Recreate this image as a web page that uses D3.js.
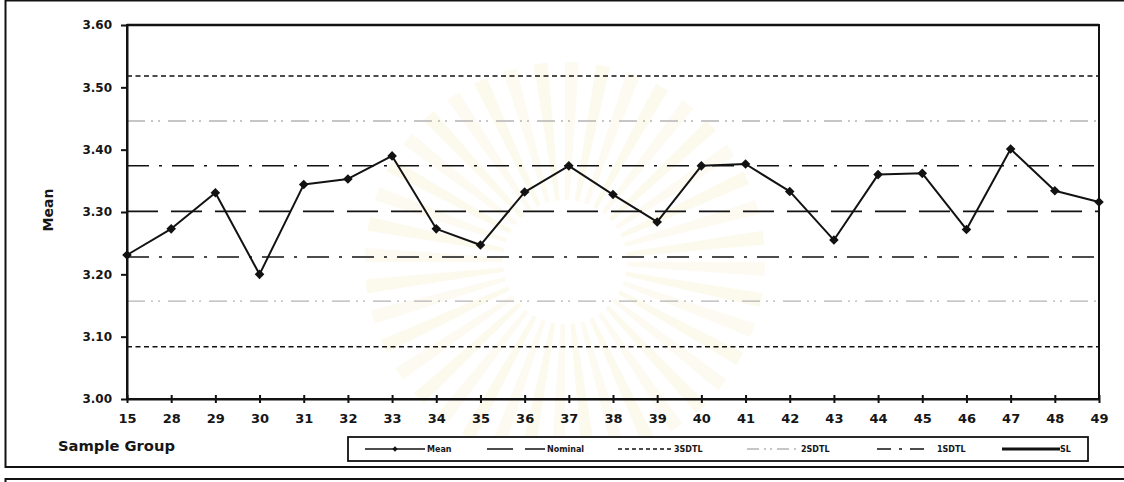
<!DOCTYPE html>
<html>
<head>
<meta charset="utf-8">
<script src="https://cdn.jsdelivr.net/npm/d3@7/dist/d3.min.js"></script>
<style>
  html, body { margin: 0; padding: 0; background: #fff; }
  svg { display: block; }
  text { font-family: "DejaVu Sans", Verdana, sans-serif; font-weight: bold; fill: #161616; }
</style>
</head>
<body>
<svg id="chart" width="1124" height="482"></svg>
<script>
// Sample groups on the x axis
const groups = ["15","28","29","30","31","32","33","34","35","36","37","38","39",
                "40","41","42","43","44","45","46","47","48","49"];
// Mean of each sample group
const means = [3.231, 3.273, 3.331, 3.200, 3.344, 3.353, 3.390, 3.273, 3.247, 3.332,
               3.374, 3.328, 3.284, 3.374, 3.377, 3.333, 3.255, 3.360, 3.362, 3.272,
               3.401, 3.334, 3.316];
// Reference lines
const nominal = [3.301];
const sd1Limits = [3.228, 3.374];
const sd2Limits = [3.157, 3.446];
const sd3Limits = [3.084, 3.518];
const specLimits = [3.60];
// Axis ticks
const yTicks = [3.00, 3.10, 3.20, 3.30, 3.40, 3.50, 3.60];
const legendLabels = ["Mean", "Nominal", "3SDTL", "2SDTL", "1SDTL", "SL"];

const svg = d3.select("#chart");
const ink = "#121212";

const plot = { left: 127, right: 1099, top: 25, bottom: 399 };

const x = d3.scalePoint().domain(groups).range([plot.left, plot.right]).padding(0);
const y = d3.scaleLinear().domain([3.0, 3.6]).range([plot.bottom, plot.top]);

// faint seal watermark printed behind the chart
const seal = svg.append("g").attr("transform", "translate(565,262)");
const rayArc = d3.arc().innerRadius(62).outerRadius(200);
d3.range(40).forEach(i => {
  const a0 = i * 2 * Math.PI / 40;
  seal.append("path")
    .attr("d", rayArc({ startAngle: a0, endAngle: a0 + 0.07 }))
    .attr("fill", i % 2 ? "#f4e8bf" : "#f7eed2")
    .attr("opacity", 0.28);
});

// outer frames
svg.append("rect").attr("x", 5.5).attr("y", 0.5).attr("width", 1130).attr("height", 466.5)
  .attr("fill", "none").attr("stroke", ink).attr("stroke-width", 2);
svg.append("rect").attr("x", 5.5).attr("y", 479).attr("width", 1130).attr("height", 40)
  .attr("fill", "none").attr("stroke", ink).attr("stroke-width", 2);

// reference lines
const refStyles = {
  nominal: { dash: "31,13", color: ink, width: 1.6 },
  sd1: { dash: "22,10,3,10", color: ink, width: 1.5 },
  sd2: { dash: "18,6,2,5,2,8", color: "#b4b4b4", width: 1.3 },
  sd3: { dash: "5,3.5", color: ink, width: 1.5 },
  sl: { dash: null, color: ink, width: 2.6 }
};
function refLines(values, st) {
  svg.append("g").selectAll("line").data(values).join("line")
    .attr("x1", plot.left).attr("x2", plot.right)
    .attr("y1", d => y(d)).attr("y2", d => y(d))
    .attr("stroke", st.color).attr("stroke-width", st.width)
    .attr("stroke-dasharray", st.dash);
}
refLines(sd3Limits, refStyles.sd3);
refLines(sd2Limits, refStyles.sd2);
refLines(sd1Limits, refStyles.sd1);
refLines(nominal, refStyles.nominal);

// plot frame
svg.append("rect").attr("x", plot.left).attr("y", plot.top)
  .attr("width", plot.right - plot.left).attr("height", plot.bottom - plot.top)
  .attr("fill", "none").attr("stroke", ink).attr("stroke-width", 2);
refLines(specLimits, refStyles.sl);

// y axis
const yAxis = d3.axisLeft(y).tickValues(yTicks).tickFormat(d3.format(".2f"))
  .tickSizeInner(6).tickSizeOuter(0).tickPadding(9);
const gy = svg.append("g").attr("transform", `translate(${plot.left},0)`).call(yAxis);
gy.select(".domain").attr("stroke", ink).attr("stroke-width", 2);
gy.selectAll(".tick line").attr("stroke", ink).attr("stroke-width", 2);
gy.selectAll(".tick text").attr("font-size", 12).attr("font-family", "DejaVu Sans")
  .attr("font-weight", "bold").attr("fill", ink);

// x axis
const xAxis = d3.axisBottom(x).tickSizeInner(4).tickSizeOuter(0).tickPadding(11);
const gx = svg.append("g").attr("transform", `translate(0,${plot.bottom})`).call(xAxis);
gx.select(".domain").attr("stroke", ink).attr("stroke-width", 2);
gx.selectAll(".tick line").attr("stroke", ink).attr("stroke-width", 2).attr("y1", -4);
gx.selectAll(".tick text").attr("font-size", 13).attr("font-family", "DejaVu Sans")
  .attr("font-weight", "bold").attr("fill", ink);

// axis titles
svg.append("text").attr("transform", "translate(53,210) rotate(-90)")
  .attr("text-anchor", "middle").attr("font-size", 14).text("Mean");
svg.append("text").attr("x", 58).attr("y", 451).attr("font-size", 14.5)
  .attr("textLength", 117).attr("lengthAdjust", "spacingAndGlyphs").text("Sample Group");

// mean series
const line = d3.line().x((d, i) => x(groups[i])).y(d => y(d));
svg.append("path").datum(means).attr("d", line)
  .attr("fill", "none").attr("stroke", ink).attr("stroke-width", 2).attr("stroke-linejoin", "round");
const marker = d3.symbol().type(d3.symbolSquare).size(46);
svg.append("g").selectAll("path").data(means).join("path")
  .attr("d", marker)
  .attr("transform", (d, i) => `translate(${x(groups[i])},${y(d)}) rotate(45)`)
  .attr("fill", ink);

// legend
const lg = svg.append("g");
lg.append("rect").attr("x", 348).attr("y", 437).attr("width", 740).attr("height", 24)
  .attr("fill", "#fff").attr("stroke", ink).attr("stroke-width", 1.8);
const ly = 449;
const items = [
  { x1: 365, x2: 425, st: { dash: null, color: ink, width: 1.6 }, marker: true, tx: 427 },
  { x1: 487, x2: 545, st: { dash: "26,12", color: ink, width: 1.6 }, tx: 547 },
  { x1: 618, x2: 672, st: { dash: "4,3", color: ink, width: 1.5 }, tx: 674 },
  { x1: 747, x2: 799, st: { dash: "12,5,2,4,2,5", color: "#b4b4b4", width: 1.3 }, tx: 801 },
  { x1: 877, x2: 925, st: { dash: "14,8,3,8", color: ink, width: 1.5 }, tx: 937 },
  { x1: 1002, x2: 1060, st: { dash: null, color: ink, width: 3 }, tx: 1060 }
];
items.forEach((it, i) => {
  lg.append("line").attr("x1", it.x1).attr("x2", it.x2).attr("y1", ly).attr("y2", ly)
    .attr("stroke", it.st.color).attr("stroke-width", it.st.width)
    .attr("stroke-dasharray", it.st.dash);
  if (it.marker) {
    lg.append("path").attr("d", d3.symbol().type(d3.symbolSquare).size(14))
      .attr("transform", `translate(${(it.x1 + it.x2) / 2},${ly}) rotate(45)`).attr("fill", ink);
  }
  lg.append("text").attr("x", it.tx).attr("y", ly + 3).attr("font-size", 8)
    .text(legendLabels[i]);
});
</script>
</body>
</html>
